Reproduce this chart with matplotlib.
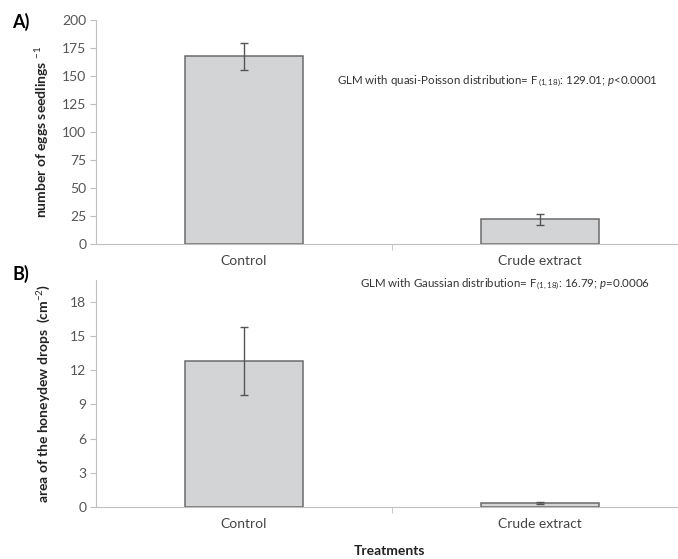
import matplotlib
matplotlib.use("Agg")
from matplotlib import pyplot as plt
import numpy as np

plt.rcParams['font.family'] = ['Lato', 'DejaVu Sans']
plt.rcParams['mathtext.fontset'] = 'custom'
plt.rcParams['mathtext.rm'] = 'Lato'
plt.rcParams['mathtext.it'] = 'Lato:italic'
plt.rcParams['mathtext.bf'] = 'Lato:bold'

treatments = ["Control", "Crude extract"]
eggs = [167.5, 22]
eggs_err = [12, 5]
honeydew = [12.8, 0.35]
honeydew_err = [3.0, 0.06]

bar_fill = '#d3d4d6'
bar_edge = '#6b6b6b'
axis_grey = '#bfbfbf'
label_grey = '#555555'

fig = plt.figure(figsize=(6.78, 5.59), dpi=100)
axA = fig.add_axes([96/678, 1-244/559, 1-96/678, 224/559])
axB = fig.add_axes([96/678, 1-507/559, 1-96/678, 227/559])

ind = np.arange(len(treatments))


def style(ax):
    for s in ['top', 'right']:
        ax.spines[s].set_visible(False)
    ax.spines['left'].set_color(axis_grey)
    ax.spines['bottom'].set_color(axis_grey)
    ax.set_xlim(-0.5, 1.466)
    ax.set_xticks(ind)
    ax.set_xticklabels(treatments)
    ax.set_xticks([0.5], minor=True)
    ax.tick_params(axis='x', which='major', length=0, pad=8,
                   labelsize=10, labelcolor='#444444')
    ax.tick_params(axis='x', which='minor', length=4, color=axis_grey)
    ax.tick_params(axis='y', length=4, color=axis_grey,
                   labelsize=10, labelcolor=label_grey, pad=3)


# panel A
axA.bar(ind, eggs, 0.4, color=bar_fill, edgecolor=bar_edge, linewidth=1.1)
axA.errorbar(ind, eggs, yerr=eggs_err, fmt='none', ecolor='#555555',
             elinewidth=1, capsize=3)
axA.set_ylim(0, 200)
axA.set_yticks(np.arange(0, 201, 25))
style(axA)
axA.set_ylabel("number of eggs seedlings $^{-1}$", fontsize=10,
               fontweight='bold', color='#222222', labelpad=8)
axA.text(337, 559-81, r"GLM with quasi-Poisson distribution= F$_{\,(1,18)}$: 129.01; $\it{p}$<0.0001",
         transform=None, fontsize=8.3, color='#333333', va='center')
fig.text(12/678, 1-22/559, "A)", fontsize=13, fontweight='bold', va='center')

# panel B
axB.bar(ind, honeydew, 0.4, color=bar_fill, edgecolor=bar_edge, linewidth=1.1)
axB.errorbar(ind, honeydew, yerr=honeydew_err, fmt='none', ecolor='#555555',
             elinewidth=1, capsize=3)
axB.set_ylim(0, 19.9)
axB.set_yticks(np.arange(0, 19, 3))
style(axB)
axB.set_ylabel("area of the honeydew drops  (cm$^{-2}$)", fontsize=10,
               fontweight='bold', color='#222222', labelpad=12)
axB.text(360, 559-284, r"GLM with Gaussian distribution= F$_{\,(1,18)}$: 16.79; $\it{p}$=0.0006",
         transform=None, fontsize=8.3, color='#333333', va='center')
fig.text(12/678, 1-274/559, "B)", fontsize=13, fontweight='bold', va='center')

fig.text(390/678, 1-551/559, "Treatments", fontsize=10, fontweight='bold',
         ha='center', va='center', color='#222222')

plt.savefig('out.png', dpi=100)
